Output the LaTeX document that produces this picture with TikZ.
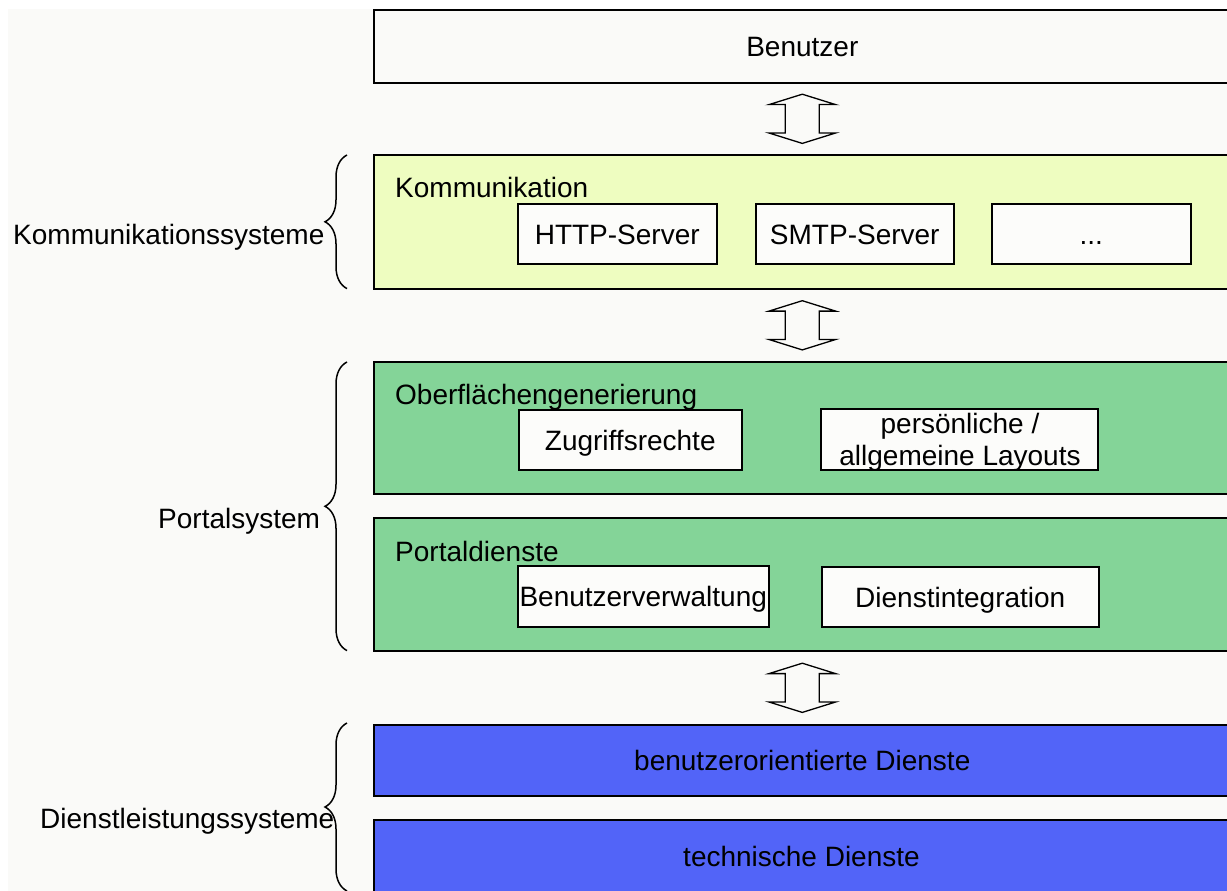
\documentclass[tikz,border=0pt]{standalone}
\usepackage{fontspec}
\setmainfont{Liberation Sans}
\usetikzlibrary{calc,decorations.pathreplacing}

\definecolor{pagebg}{RGB}{250,250,248}
\definecolor{boxwhite}{RGB}{252,252,250}
\definecolor{kommfill}{RGB}{238,253,192}
\definecolor{portalfill}{RGB}{132,212,152}
\definecolor{dienstfill}{RGB}{82,100,248}

\newcommand{\labelfont}{\fontsize{28}{32.7}\selectfont}

\tikzset{
  every node/.style={font=\labelfont},
  layer/.style={draw, line width=1.6pt, anchor=north west, inner sep=0pt,
    minimum width=857pt, text height=21pt, text depth=0pt},
  subbox/.style={draw, fill=boxwhite, line width=1.5pt, anchor=north west,
    inner sep=0pt, minimum height=60pt, text height=21pt, text depth=0pt},
  layertitle/.style={anchor=base west, inner sep=0pt},
  sidetitle/.style={anchor=base west, inner sep=0pt},
  groupbrace/.style={decorate, decoration={brace, amplitude=22pt, aspect=0.5},
    line width=1.5pt},
  updown/.pic={
    \draw[line width=1.3pt, fill=pagebg, line join=miter]
      (0,-24.6) -- (33.3,-14.2) -- (17,-14.2) -- (17,14.2) -- (33.3,14.2)
      -- (0,24.6) -- (-33.3,14.2) -- (-17,14.2) -- (-17,-14.2)
      -- (-33.3,-14.2) -- cycle;
  }
}

\begin{document}
\begin{tikzpicture}[x=1pt,y=-1pt]
  \useasboundingbox (0,0) rectangle (1227,891);
  \clip (0,0) rectangle (1227,891);
  \fill[white] (0,0) rectangle (1227,891);
  \fill[pagebg] (8,9) rectangle (1240,900);

  % layers
  \node[layer, fill=pagebg, minimum height=73pt] (benutzer) at (373,9) {Benutzer};
  \node[layer, fill=kommfill, minimum height=134pt] (komm) at (373,154) {};
  \node[layer, fill=portalfill, minimum height=132pt] (ober) at (373,361) {};
  \node[layer, fill=portalfill, minimum height=133pt] (portal) at (373,517) {};
  \node[layer, fill=dienstfill, minimum height=71pt] (bdienste) at (373,724) {benutzerorientierte Dienste};
  \node[layer, fill=dienstfill, minimum height=80pt] (tdienste) at (373,819) {};
  \node[inner sep=0pt, anchor=base] (tdtext) at (801.5,866) {technische Dienste};

  % layer titles
  \node[layertitle] (kommtitle) at (395,197) {Kommunikation};
  \node[layertitle] (obertitle) at (395,404) {Oberflächengenerierung};
  \node[layertitle] (portaltitle) at (395,561) {Portaldienste};

  % components
  \node[subbox, minimum width=199pt] (http) at (517,203) {HTTP-Server};
  \node[subbox, minimum width=198pt] (smtp) at (755,203) {SMTP-Server};
  \node[subbox, minimum width=199pt] (more) at (991,203) {...};

  \node[subbox, minimum width=223pt] (rechte) at (518,409) {Zugriffsrechte};
  \node[subbox, minimum width=277pt, minimum height=61pt] (layouts) at (820,408) {};
  \node[inner sep=0pt, anchor=north, align=center] (layoutstext) at (960,412.6)
    {persönliche /\\allgemeine Layouts};

  \node[subbox, minimum width=251pt, minimum height=61pt] (verwaltung) at (517,565) {Benutzerverwaltung};
  \node[subbox, minimum width=277pt] (integration) at (821,566) {Dienstintegration};

  % exchange arrows between the layers
  \pic at ($(benutzer.south)!0.5!(komm.north)$) {updown};
  \pic at ($(komm.south)!0.5!(ober.north)$) {updown};
  \pic at ($(portal.south)!0.5!(bdienste.north)$) {updown};

  % grouping braces with their titles
  \draw[groupbrace] ($(komm.south west)+(-26,-1)$) -- ($(komm.north west)+(-26,1)$);
  \draw[groupbrace] ($(portal.south west)+(-26,-1)$) -- ($(ober.north west)+(-26,1)$);
  \draw[groupbrace] (347,891) -- ($(bdienste.north west)+(-26,-1)$);

  \node[sidetitle] (ksys) at (13,244) {Kommunikationssysteme};
  \node[sidetitle] (psys) at (158,528) {Portalsystem};
  \node[sidetitle] (dsys) at (40,828) {Dienstleistungssysteme};
\end{tikzpicture}
\end{document}
